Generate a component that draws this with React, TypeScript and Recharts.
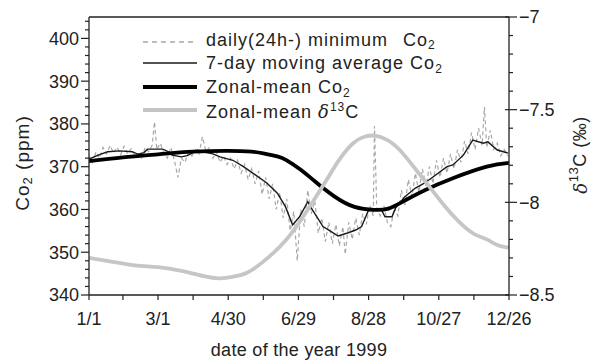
import React from 'react';
import {
  LineChart,
  Line,
  XAxis,
  YAxis,
  Legend,
  ReferenceLine,
  Label,
} from 'recharts';

// x positions are day of year 1999
const X_TICKS = [1, 30, 60, 90, 120, 150, 180, 210, 240, 270, 300, 330, 360];
const X_LABEL_DAYS = [1, 60, 120, 180, 240, 300, 360];
const X_LABELS = ['1/1', '3/1', '4/30', '6/29', '8/28', '10/27', '12/26'];

const CO2_TICKS = [
  340, 342, 344, 346, 348, 350, 352, 354, 356, 358, 360, 362, 364, 366, 368, 370,
  372, 374, 376, 378, 380, 382, 384, 386, 388, 390, 392, 394, 396, 398, 400, 402, 404,
];
const D13C_TICKS = [
  -8.5, -8.4, -8.3, -8.2, -8.1, -8.0, -7.9, -7.8, -7.7, -7.6, -7.5, -7.4, -7.3, -7.2, -7.1, -7.0,
];

// daily (24h) minimum CO2, ppm
const DAILY_DAYS = [
  1, 4, 7, 10, 13, 16, 19, 22, 25, 28, 31, 34, 37, 40, 43, 46, 49, 52, 55, 57, 59, 62, 65, 68,
  71, 74, 77, 80, 83, 86, 89, 92, 95, 98, 101, 104, 107, 110, 113, 116, 119, 122, 125, 128,
  131, 134, 137, 140, 143, 146, 149, 152, 155, 158, 161, 164, 167, 170, 173, 176, 179, 182,
  185, 188, 191, 194, 197, 200, 203, 206, 209, 212, 215, 218, 220, 223, 226, 229, 232, 235,
  238, 241, 244, 245, 247, 250, 253, 256, 259, 262, 265, 268, 271, 274, 277, 280, 283, 286,
  289, 292, 295, 298, 301, 304, 307, 310, 313, 316, 319, 322, 325, 328, 331, 334, 337, 339,
  341, 344, 347, 350, 353, 356, 359,
];
const DAILY_CO2 = [
  372.5, 371.0, 373.5, 372.0, 374.5, 373.0, 375.0, 373.2, 374.6, 372.8, 374.8, 373.0, 374.2,
  372.5, 373.0, 372.0, 374.5, 373.5, 375.0, 380.5, 374.0, 375.5, 373.0, 372.0, 374.5, 371.5,
  367.5, 372.0, 371.0, 373.5, 372.5, 374.0, 373.0, 377.0, 373.5, 374.5, 372.0, 373.5, 371.0,
  372.5, 370.5, 372.0, 369.5, 371.5, 368.5, 370.5, 367.0, 369.5, 366.0, 369.0, 363.5, 367.5,
  362.5, 366.0, 360.0, 364.0, 358.0, 362.5, 355.0, 359.5, 348.0, 360.0, 356.0, 364.5, 359.0,
  362.0, 354.5, 358.0, 352.5, 357.0, 352.0, 356.5, 351.5, 356.0, 349.5, 357.0, 353.0, 358.0,
  354.0, 359.0, 356.5, 361.0, 358.5, 379.5, 360.0, 358.5, 361.0, 357.0, 356.0, 360.5, 358.5,
  364.5, 361.0, 367.0, 363.0, 368.5, 364.0, 369.5, 365.5, 370.0, 366.0, 371.5, 367.5, 372.0,
  368.5, 373.0, 369.5, 374.0, 371.0, 376.0, 373.0, 378.0, 374.0, 379.0, 375.0, 384.0, 374.5,
  378.5, 374.0, 375.5, 372.5, 374.0, 372.5,
];

// 7-day moving average CO2, ppm
const AVG_DAYS = [
  1, 10, 17, 27, 38, 43, 48, 51, 64, 69, 72, 80, 85, 94, 96, 107, 113, 124, 133, 141, 153,
  162, 169, 175, 181, 188, 192, 201, 207, 214, 222, 229, 234, 240, 251, 254, 260, 263, 271,
  280, 288, 295, 307, 312, 321, 329, 338, 342, 350, 359,
];
const AVG_CO2 = [
  371.8, 372.8, 373.5, 373.7, 373.5, 372.9, 373.3, 374.1, 374.1, 373.5, 372.7, 372.3, 372.6,
  373.9, 373.6, 373.0, 372.3, 371.5, 370.0, 368.5, 366.2, 363.8, 360.6, 356.4, 358.3, 361.8,
  359.9, 356.0, 355.0, 353.8, 354.5, 355.2, 356.0, 359.9, 359.9, 358.3, 358.3, 360.3, 363.0,
  365.0, 366.2, 367.6, 370.0, 370.4, 372.7, 376.2, 375.5, 375.8, 373.9, 373.2,
];

// zonal-mean CO2, ppm
const ZONAL_DAYS = [1, 30, 60, 90, 120, 140, 150, 162, 170, 182, 194, 211, 228, 245, 257, 269, 288, 312, 341, 360];
const ZONAL_CO2 = [
  371.3, 372.2, 372.9, 373.5, 373.7, 373.5, 373.1, 372.4, 371.5, 369.3, 366.6, 363.0, 360.6,
  359.9, 360.2, 361.8, 364.5, 367.3, 370.0, 370.9,
];

// zonal-mean delta13C, per mil
const D13C_DAYS = [
  1, 20, 40, 60, 80, 100, 113, 125, 136, 150, 164, 175, 190, 204, 215, 227, 237, 245, 255,
  267, 280, 290, 305, 318, 330, 341, 350, 360,
];
const D13C = [
  -8.3, -8.32, -8.34, -8.35, -8.37, -8.4, -8.41, -8.4, -8.38, -8.32, -8.24, -8.16, -8.02,
  -7.88, -7.77, -7.68, -7.645, -7.64, -7.66, -7.72, -7.82, -7.9, -8.02, -8.11, -8.17, -8.2,
  -8.23, -8.245,
];

const daily = DAILY_DAYS.map((d, i) => ({ day: d, v: DAILY_CO2[i] }));
const avg = AVG_DAYS.map((d, i) => ({ day: d, v: AVG_CO2[i] }));
const zonal = ZONAL_DAYS.map((d, i) => ({ day: d, v: ZONAL_CO2[i] }));
const d13c = D13C_DAYS.map((d, i) => ({ day: d, v: D13C[i] }));

const FONT = '"Liberation Sans", Arial, Helvetica, sans-serif';
const INK = '#222';

const LeftTick = (props: any) => {
  const { x, y, payload } = props;
  const major = payload.value % 10 === 0;
  return (
    <g>
      <line x1={x} x2={x - (major ? 8 : 4)} y1={y} y2={y} stroke={INK} strokeWidth={1.2} />
      {major && (
        <text x={x - 10} y={y} dy="0.36em" textAnchor="end" fontSize={18} fill={INK} fontFamily={FONT}>
          {payload.value}
        </text>
      )}
    </g>
  );
};

const RightTick = (props: any) => {
  const { x, y, payload } = props;
  const v = payload.value;
  const major = Math.abs(v * 2 - Math.round(v * 2)) < 1e-6;
  return (
    <g>
      <line x1={major ? x - 4 : x} x2={x + (major ? 8 : 4)} y1={y} y2={y} stroke={INK} strokeWidth={1.2} />
      {major && (
        <text x={x + 10} y={y} dy="0.36em" textAnchor="start" fontSize={18} fill={INK} fontFamily={FONT}>
          {String(Number(v.toFixed(1))).replace('-', '\u2212')}
        </text>
      )}
    </g>
  );
};

const BottomTick = (props: any) => {
  const { x, y, payload } = props;
  const idx = X_LABEL_DAYS.indexOf(payload.value);
  return (
    <g>
      <line x1={x} x2={x} y1={y} y2={y + 5} stroke={INK} strokeWidth={1.2} />
      {idx >= 0 && (
        <text x={x} y={y + 30} textAnchor="middle" fontSize={18} fill={INK} fontFamily={FONT}>
          {X_LABELS[idx]}
        </text>
      )}
    </g>
  );
};

const ChartLegend = () => {
  const txt = { fontSize: 18, fill: INK, fontFamily: FONT, letterSpacing: 1 } as const;
  const sub = { fontSize: 12 } as const;
  return (
    <svg width={591} height={130} style={{ display: 'block' }}>
      <line x1={143} x2={197} y1={42} y2={42} stroke="#a8a8a8" strokeWidth={1.3} strokeDasharray="5 4" />
      <text x={206} y={46} {...txt}>
        daily(24h-) minimum
        <tspan x={403}>Co</tspan>
        <tspan dy={3} style={sub}>2</tspan>
      </text>
      <line x1={143} x2={197} y1={63} y2={63} stroke="#1a1a1a" strokeWidth={1.5} />
      <text x={206} y={69} {...txt}>
        7-day moving average Co
        <tspan dy={4} style={sub}>2</tspan>
      </text>
      <line x1={143} x2={197} y1={87} y2={87} stroke="#000" strokeWidth={4} />
      <text x={206} y={93} {...txt}>
        Zonal-mean Co
        <tspan dy={4} style={sub}>2</tspan>
      </text>
      <line x1={143} x2={197} y1={110} y2={110} stroke="#c4c4c4" strokeWidth={4} />
      <text x={206} y={118} {...txt}>
        Zonal-mean <tspan fontStyle="italic" fontFamily='"DejaVu Serif", serif'>δ</tspan>
        <tspan dy={-7} style={sub}>13</tspan>
        <tspan dy={7}>C</tspan>
      </text>
    </svg>
  );
};

export default function App() {
  return (
    <div style={{ position: 'absolute', left: 0, top: 0, background: '#fff' }}>
      <LineChart width={591} height={361} margin={{ top: 17, right: 0, bottom: 0, left: 0 }}>
        <XAxis
          dataKey="day"
          type="number"
          domain={[1, 360]}
          ticks={X_TICKS}
          allowDataOverflow
          height={66}
          axisLine={{ stroke: INK, strokeWidth: 1.3 }}
          tickLine={false}
          tickSize={0}
          tickMargin={0}
          tick={<BottomTick />}
          interval={0}
        >
          <Label
            content={(p: any) => {
              const vb = p.viewBox;
              return (
                <text
                  x={vb.x + vb.width / 2}
                  y={vb.y + 61}
                  textAnchor="middle"
                  fontSize={18}
                  letterSpacing={0.3}
                  fill={INK}
                  fontFamily={FONT}
                >
                  date of the year 1999
                </text>
              );
            }}
          />
        </XAxis>
        <YAxis
          yAxisId="left"
          orientation="left"
          domain={[340, 405]}
          ticks={CO2_TICKS}
          allowDataOverflow
          width={89}
          interval={0}
          axisLine={{ stroke: INK, strokeWidth: 1.3 }}
          tickLine={false}
          tickSize={0}
          tickMargin={0}
          tick={<LeftTick />}
        >
          <Label
            content={(p: any) => {
              const vb = p.viewBox;
              const cx = 22;
              const cy = vb.y + vb.height / 2 + 7;
              return (
                <text
                  x={cx}
                  y={cy}
                  transform={`rotate(-90 ${cx} ${cy})`}
                  textAnchor="middle"
                  dominantBaseline="central"
                  fontSize={19}
                  letterSpacing={1}
                  fill={INK}
                  fontFamily={FONT}
                >
                  Co<tspan dy={5} fontSize={13}>2</tspan>
                  <tspan dy={-5}> (ppm)</tspan>
                </text>
              );
            }}
          />
        </YAxis>
        <YAxis
          yAxisId="right"
          orientation="right"
          domain={[-8.5, -7]}
          ticks={D13C_TICKS}
          allowDataOverflow
          width={82}
          interval={0}
          axisLine={{ stroke: INK, strokeWidth: 1.3 }}
          tickLine={false}
          tickSize={0}
          tickMargin={0}
          tick={<RightTick />}
        >
          <Label
            content={(p: any) => {
              const vb = p.viewBox;
              const cx = vb.x + 71;
              const cy = vb.y + vb.height / 2 - 1;
              return (
                <text
                  x={cx}
                  y={cy}
                  transform={`rotate(-90 ${cx} ${cy})`}
                  textAnchor="middle"
                  dominantBaseline="central"
                  fontSize={18}
                  letterSpacing={0.5}
                  fill={INK}
                  fontFamily={FONT}
                >
                  <tspan fontStyle="italic" fontFamily='"DejaVu Serif", serif'>δ</tspan>
                  <tspan dy={-7} fontSize={13}>13</tspan>
                  <tspan dy={7}>C (‰)</tspan>
                </text>
              );
            }}
          />
        </YAxis>
        <ReferenceLine yAxisId="left" y={405} stroke={INK} strokeWidth={1.3} />
        <Legend
          layout="vertical"
          align="center"
          verticalAlign="middle"
          wrapperStyle={{ top: 0, left: 0, width: 591, height: 130, margin: 0 }}
          content={() => <ChartLegend />}
        />
        <Line
          yAxisId="left"
          data={daily}
          dataKey="v"
          type="linear"
          stroke="#a8a8a8"
          strokeWidth={1.2}
          strokeDasharray="4 3"
          dot={false}
          isAnimationActive={false}
        />
        <Line
          yAxisId="left"
          data={avg}
          dataKey="v"
          type="linear"
          stroke="#1a1a1a"
          strokeWidth={1.4}
          dot={false}
          isAnimationActive={false}
        />
        <Line
          yAxisId="left"
          data={zonal}
          dataKey="v"
          type="natural"
          stroke="#000"
          strokeWidth={3.8}
          dot={false}
          isAnimationActive={false}
        />
        <Line
          yAxisId="right"
          data={d13c}
          dataKey="v"
          type="natural"
          stroke="#c6c6c6"
          strokeWidth={3.8}
          dot={false}
          isAnimationActive={false}
        />
      </LineChart>
    </div>
  );
}
